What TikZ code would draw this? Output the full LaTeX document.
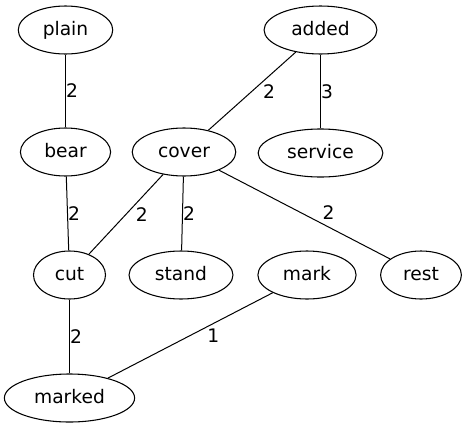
\documentclass[tikz,border=0pt]{standalone}
\usepackage{fontspec}
\setmainfont{DejaVu Sans}
\usetikzlibrary{shapes.geometric}

\begin{document}
\begin{tikzpicture}[x = 0.75pt, y = -0.75pt,
        word/.style = {draw, ellipse, line width = 0.8pt, minimum width = 54pt, minimum height = 36pt, inner xsep = 8pt, inner ysep = 0pt, text height = 11pt, text depth = 3.5pt, font = \fontsize{14}{16}\selectfont},
        weight/.style = {inner sep = 0pt, font = \fontsize{14}{16}\selectfont},
        link/.style = {line width = 0.75pt}]
        \useasboundingbox (0, 0) rectangle (468, 429);

        \node[word] at (65.5, 30) (plain) {plain};
        \node[word] at (320.5, 30) (added) {added};

        \node[word] at (65.5, 152) (bear) {bear};
        \node[word] at (184, 152) (cover) {cover};
        \node[word] at (320.5, 153) (service) {service};

        \node[word] at (69.5, 275) (cut) {cut};
        \node[word] at (181, 275) (stand) {stand};
        \node[word] at (307, 275) (mark) {mark};
        \node[word] at (421, 275) (rest) {rest};

        \node[word] at (69.5, 398) (marked) {marked};

        \path[draw, link] (plain) -- (bear) node [weight, right, pos = 0.5] {2};
        \path[draw, link] (added) -- (cover) node [weight, right = 8pt, pos = 0.5] {2};
        \path[draw, link] (added) -- (service) node [weight, right, pos = 0.5] {3};
        \path[draw, link] (bear) -- (cut) node [weight, right, pos = 0.5] {2};
        \path[draw, link] (cover) -- (cut) node [weight, right = 7pt, pos = 0.5] {2};
        \path[draw, link] (cover) -- (stand) node [weight, right, pos = 0.5] {2};
        \path[draw, link] (cover) -- (rest) node [weight, above = 5pt, pos = 0.64] {2};
        \path[draw, link] (cut) -- (marked) node [weight, right, pos = 0.5] {2};
        \path[draw, link] (mark) -- (marked) node [weight, below = 4pt, pos = 0.36] {1};
\end{tikzpicture}
\end{document}
